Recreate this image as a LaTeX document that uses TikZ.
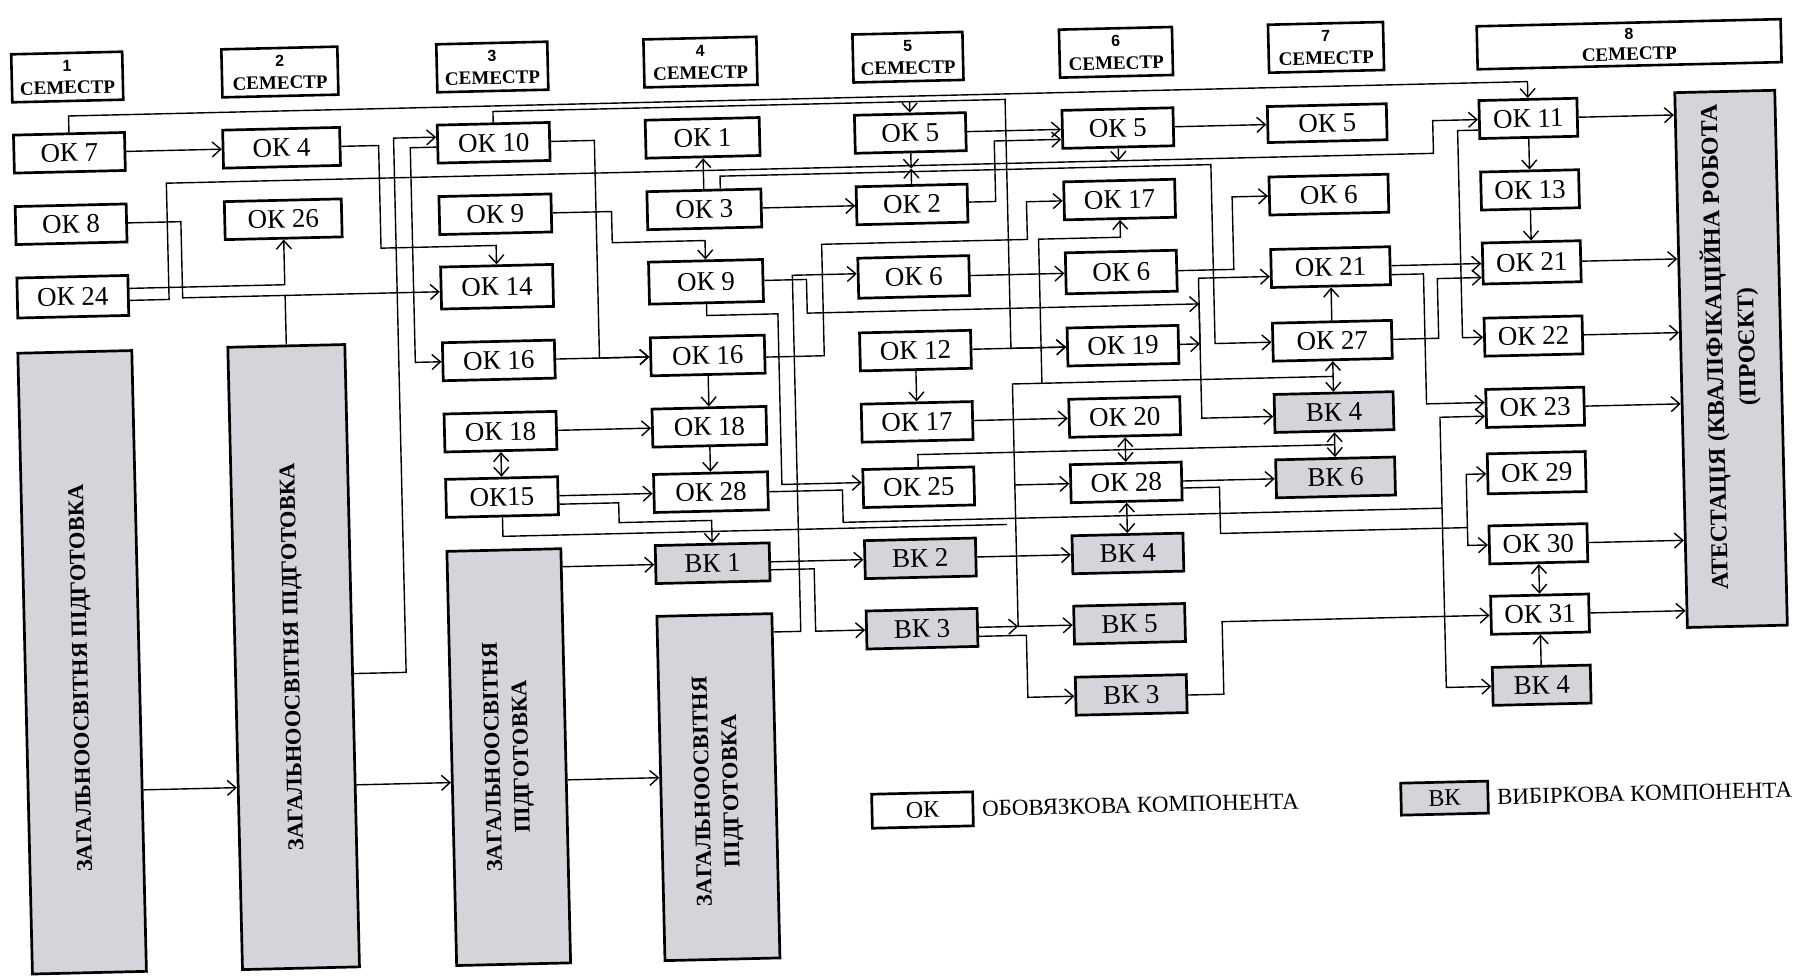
\documentclass[tikz,border=0pt]{standalone}
\usepackage{fontspec}
\setmainfont{Liberation Serif}
\newfontfamily\hdsans{Liberation Sans}
\usetikzlibrary{arrows.meta,calc}
\definecolor{vkgray}{RGB}{214,212,218}
\newcommand{\semhdr}[1]{{\hdsans\fontsize{16}{23}\selectfont #1}\\{\rmfamily\bfseries СЕМЕСТР}}
\begin{document}
\begin{tikzpicture}[x=1pt,y=-1pt,
  box/.style={draw,line width=2.7pt,minimum height=38pt,inner sep=0pt,font=\fontsize{27}{29}\selectfont},
  vk/.style={box,fill=vkgray},
  hdr/.style={draw,line width=2.6pt,minimum height=48pt,inner sep=0pt,align=center,font=\fontsize{19}{23}\selectfont\bfseries},
  bigbox/.style={draw,line width=2.7pt,fill=vkgray,inner sep=0pt},
  bigtext/.style={rotate=90,align=center,inner sep=0pt,font=\fontsize{22.5}{28.5}\selectfont\bfseries},
  ln/.style={line width=1.4pt},
  arr/.style={line width=1.4pt,-{Straight Barb[length=8.5pt,width=15pt]}},
  dbl/.style={line width=1.4pt,{Straight Barb[length=8.5pt,width=15pt]}-{Straight Barb[length=8.5pt,width=15pt]}},
  cA/.style={minimum width=111pt},
  cB/.style={minimum width=117pt},
  cC/.style={minimum width=112pt},
  cD/.style={minimum width=114pt},
  cE/.style={minimum width=111pt},
  cF/.style={minimum width=111pt},
  cG/.style={minimum width=119pt},
  cH/.style={minimum width=98pt},
  legtext/.style={anchor=west,inner sep=0pt,font=\fontsize{23}{25}\selectfont}
]
\path[use as bounding box,fill=white] (11.29,-21.34) rectangle (1806.29,953.66);
\begin{scope}[rotate=1.35,transform shape]
% ---------- semester headers
\node[hdr,minimum width=111pt] (S1) at (77.2,57.5) {\semhdr{1}};
\node[hdr,minimum width=116pt] (S2) at (289.9,57.5) {\semhdr{2}};
\node[hdr,minimum width=111pt] (S3) at (502.4,57.5) {\semhdr{3}};
\node[hdr,minimum width=113pt] (S4) at (710.6,57.5) {\semhdr{4}};
\node[hdr,minimum width=110pt] (S5) at (918.2,57.5) {\semhdr{5}};
\node[hdr,minimum width=113pt] (S6) at (1126.3,57.5) {\semhdr{6}};
\node[hdr,minimum width=115pt] (S7) at (1336.4,57.5) {\semhdr{7}};
\node[hdr,minimum width=304pt,minimum height=43pt,font=\fontsize{19}{21}\selectfont\bfseries] (S8) at (1639.5,61.5) {\semhdr{8}};
% ---------- column 1
\node[box,cA] (OK7) at (77.6,133.3) {ОК 7};
\node[box,cA] (OK8) at (77.6,204.8) {ОК 8};
\node[box,cA,minimum height=40pt] (OK24) at (77.6,277.3) {ОК 24};
\node[bigbox,minimum width=114pt,minimum height=621pt] (B1) at (78.3,643) {};
\node[bigtext] (B1t) at ($(B1.center)+(0,16)$) {ЗАГАЛЬНООСВІТНЯ ПІДГОТОВКА};
% ---------- column 2
\node[box,cB] (OK4) at (289.8,133.3) {ОК 4};
\node[box,cB] (OK26) at (289.8,204.8) {ОК 26};
\node[bigbox,minimum width=117pt,minimum height=622.5pt] (B2) at (289.9,642.75) {};
\node[bigtext] (B2t) at (B2.center) {ЗАГАЛЬНООСВІТНЯ ПІДГОТОВКА};
% ---------- column 3
\node[box,cC] (OK10) at (502,133.3) {ОК 10};
\node[box,cC] (OK9a) at (502,204.8) {ОК 9};
\node[box,cC,minimum height=42pt] (OK14) at (502,277.3) {ОК 14};
\node[box,cC] (OK16a) at (502,351) {ОК 16};
\node[box,cC] (OK18a) at (502,422.3) {ОК 18};
\node[box,cC] (OK15) at (502,487.7) {ОК15};
\node[bigbox,minimum width=114pt,minimum height=414.3pt] (B3) at (502.6,747.85) {};
\node[bigtext] (B3t) at (B3.center) {ЗАГАЛЬНООСВІТНЯ\\ПІДГОТОВКА};
% ---------- column 4
\node[box,cD] (OK1) at (711,133.3) {ОК 1};
\node[box,cD] (OK3) at (711,204.8) {ОК 3};
\node[box,cD,minimum height=42pt] (OK9b) at (711,277.3) {ОК 9};
\node[box,cD] (OK16b) at (711,351) {ОК 16};
\node[box,cD] (OK18b) at (711,422.3) {ОК 18};
\node[box,cD] (OK28a) at (711,487.7) {ОК 28};
\node[vk,cD] (VK1) at (711,558.8) {ВК 1};
\node[bigbox,minimum width=115pt,minimum height=344.4pt] (B4) at (711.5,782.8) {};
\node[bigtext] (B4t) at ($(B4.center)+(0,4)$) {ЗАГАЛЬНООСВІТНЯ\\ПІДГОТОВКА};
% ---------- column 5
\node[box,cE] (OK5a) at (918.8,133.3) {ОК 5};
\node[box,cE] (OK2) at (918.8,204.8) {ОК 2};
\node[box,cE,minimum height=40pt] (OK6a) at (918.8,277.3) {ОК 6};
\node[box,cE] (OK12) at (918.8,351) {ОК 12};
\node[box,cE] (OK17a) at (918.8,422.3) {ОК 17};
\node[box,cE] (OK25) at (918.8,487.7) {ОК 25};
\node[vk,cE] (VK2) at (918.8,558.8) {ВК 2};
\node[vk,cE] (VK3a) at (918.8,629.2) {ВК 3};
% ---------- column 6
\node[box,cF] (OK5b) at (1126.4,133.3) {ОК 5};
\node[box,cF] (OK17b) at (1126.4,204.8) {ОК 17};
\node[box,cF,minimum height=41pt] (OK6b) at (1126.4,277.3) {ОК 6};
\node[box,cF] (OK19) at (1126.4,351) {ОК 19};
\node[box,cF] (OK20) at (1126.4,422.3) {ОК 20};
\node[box,cF] (OK28b) at (1126.4,487.7) {ОК 28};
\node[vk,cF] (VK4a) at (1126.4,558.8) {ВК 4};
\node[vk,cF] (VK5) at (1126.4,629.2) {ВК 5};
\node[vk,cF] (VK3b) at (1126.4,700.3) {ВК 3};
% ---------- column 7
\node[box,cG,minimum height=36pt] (OK5c) at (1335.8,133.3) {ОК 5};
\node[box,cG] (OK6c) at (1335.8,204.8) {ОК 6};
\node[box,cG] (OK21a) at (1335.8,277.3) {ОК 21};
\node[box,cG] (OK27) at (1335.8,351) {ОК 27};
\node[vk,cG] (VK4b) at (1335.8,422.3) {ВК 4};
\node[vk,cG] (VK6) at (1335.8,487.7) {ВК 6};
% ---------- column 8
\node[box,cH] (OK11) at (1537,133.3) {ОК 11};
\node[box,cH] (OK13) at (1537,204.8) {ОК 13};
\node[box,cH,minimum height=41pt] (OK21b) at (1537,277.3) {ОК 21};
\node[box,cH] (OK22) at (1537,351) {ОК 22};
\node[box,cH] (OK23) at (1537,422.3) {ОК 23};
\node[box,cH,minimum height=40pt] (OK29) at (1537,487.7) {ОК 29};
\node[box,cH] (OK30) at (1537,558.8) {ОК 30};
\node[box,cH] (OK31) at (1537,629.2) {ОК 31};
\node[vk,cH] (VK4c) at (1537,700.3) {ВК 4};
% ---------- final attestation
\node[bigbox,minimum width=100pt,minimum height=535pt] (RB) at (1734,378.5) {};
\node[bigtext,font=\fontsize{24}{32}\selectfont\bfseries] (RBt) at ($(RB.center)+(0,-12)$) {АТЕСТАЦІЯ (КВАЛІФІКАЦІЙНА РОБОТА\\(ПРОЄКТ)};
% ---------- legend
\node[box,minimum width=101pt,minimum height=34pt,font=\fontsize{24}{26}\selectfont] (LOK) at (915,810.5) {ОК};
\node[legtext] (LOKt) at (974.5,810.5) {ОБОВЯЗКОВА КОМПОНЕНТА};
\node[vk,minimum width=87pt,minimum height=32pt,font=\fontsize{24}{26}\selectfont] (LVK) at (1437.2,810.9) {ВК};
\node[legtext] (LVKt) at (1489.6,810.9) {ВИБІРКОВА КОМПОНЕНТА};
% ---------- junction coordinates
\coordinate (jOK5) at (918.8,102);
\coordinate (jB2) at (289.9,281);
\coordinate (dang) at (1006,527);
\coordinate (jA) at (1203.5,311);
\coordinate (jB) at (1203.5,351);
\coordinate (j5) at (1441.6,521);
\coordinate (m3) at (918.8,169);
\coordinate (m2) at (1335.8,455);
\coordinate (jV) at (1015,629.2);
\coordinate (j6) at (1126.4,166);
\coordinate (j7) at (1466.5,541);
\coordinate (m1) at (1335.8,386.65);
\coordinate (jC) at (1015,487.7);
\coordinate (jD) at (1044.5,386.65);
% ---------- long top lines
\draw[arr] (OK7.north) -- (77.6,96.5) -- (1537,96.5) -- (OK11.north);
\draw[arr] (OK10.north) -- (502,102) -- (1014.3,102) -- (1014.3,351) -- (OK19.west);
\draw[arr] (jOK5) -- (OK5a.north);
% ---------- left part
\draw[arr] (OK7.east) -- (OK4.west);
\draw[arr] (OK4.east) -- (386.9,133.3) -- (386.9,236) -- (502,236) -- (OK14.north);
\draw[arr] (OK8.east) -- (187.4,204.8) -- (187.4,281) -- ($(OK14.west)+(0,3.7)$);
\draw[ln] (B2.north) -- (jB2);
\draw[arr] ($(OK24.east)+(0,-7)$) -- (289.8,270.3) -- (OK26.south);
\draw[arr] ($(OK24.east)+(0,5)$) -- (173.8,282.3) -- (173.8,166) -- (1441.3,166) -- (1441.3,133.3) -- (OK11.west);
\draw[arr] ($(B2.east)+(0,17.95)$) -- (402,660.7) -- (402,126.3) -- ($(OK10.west)+(0,-7)$);
\draw[arr] ($(OK10.west)+(0,3)$) -- (418.5,136.3) -- (418.5,351) -- (OK16a.west);
\draw[arr] (OK10.east) -- (602.7,133.3) -- (602.7,351) -- (OK16b.west);
\draw[arr] (OK16a.east) -- (OK16b.west);
\draw[arr] (OK9a.east) -- (618.2,204.8) -- (618.2,236) -- (711,236) -- (OK9b.north);
\draw[arr] (OK18a.east) -- (OK18b.west);
\draw[dbl] (OK18a.south) -- (OK15.north);
\draw[arr] (OK15.east) -- (OK28a.west);
\draw[arr] ($(OK15.east)+(0,8.5)$) -- (618.5,496.2) -- (618.5,516) -- (711,516) -- (VK1.north);
\draw[ln] (OK15.south) -- (502,527) -- (dang);
\draw[arr] ($(B3.east)+(0,-189.05)$) -- (VK1.west);
\draw[arr] ($(B1.east)+(0,129)$) -- ($(B2.west)+(0,129.25)$);
\draw[arr] ($(B2.east)+(0,129.25)$) -- ($(B3.west)+(0,24.15)$);
\draw[arr] ($(B3.east)+(0,24.15)$) -- ($(B4.west)+(0,-10.8)$);
% ---------- column 4 outputs
\draw[arr] (OK3.north) -- (OK1.south);
\draw[arr] (OK3.east) -- (OK2.west);
\draw[arr] ($(OK3.north)+(16.5,0)$) -- (727.5,172) -- (1218.5,172) -- (1218.5,351) -- (OK27.west);
\draw[arr] (OK16b.south) -- (OK18b.north);
\draw[arr] (OK18b.south) -- (OK28a.north);
\draw[arr] ($(B4.east)+(0,-153.8)$) -- (797.5,629) -- (797.5,272.8) -- ($(OK6a.west)+(0,-4.5)$);
\draw[arr] (OK9b.south) -- (711,311) -- (782.1,311) -- (782.1,481.7) -- ($(OK25.west)+(0,-6)$);
\draw[arr] (OK9b.east) -- (811.5,277.3) -- (811.5,311) -- (jA);
\draw[arr] ($(OK16b.east)+(0,3)$) -- (827.5,354) -- (827.5,242.5) -- (1033.3,242.5) -- (1033.3,204.8) -- (OK17b.west);
\draw[arr] ($(OK28a.east)+(0,1)$) -- (842.5,488.7) -- (842.5,521) -- (j5) -- (1441.6,430) -- ($(OK23.west)+(0,7.7)$);
\draw[arr] (j5) -- (1441.6,700.3) -- (VK4c.west);
\draw[arr] (VK1.east) -- (VK2.west);
\draw[arr] ($(VK1.east)+(0,8)$) -- (812.4,566.8) -- (812.4,629.2) -- (VK3a.west);
% ---------- column 5 outputs
\draw[arr] (OK5a.south) -- (m3);
\draw[arr] (OK2.north) -- (m3);
\draw[arr] (OK5a.east) -- (OK5b.west);
\draw[arr] ($(OK2.east)+(0,-1)$) -- (1002.5,203.8) -- (1002.5,143.3) -- ($(OK5b.west)+(0,10)$);
\draw[arr] (OK6a.east) -- (OK6b.west);
\draw[arr] (OK12.east) -- (OK19.west);
\draw[arr] (OK12.south) -- (OK17a.north);
\draw[arr] (OK17a.east) -- (OK20.west);
\draw[ln] (OK25.north) -- (918.8,455) -- (m2);
\draw[arr] (VK2.east) -- (VK4a.west);
\draw[arr] (VK3a.east) -- (jV);
\draw[arr] ($(VK3a.east)+(0,9)$) -- (1023,638.2) -- (1023,700.3) -- (VK3b.west);
% ---------- column 6 outputs
\draw[arr] (OK5b.south) -- (j6);
\draw[arr] (OK5b.east) -- (OK5c.west);
\draw[arr] (OK6b.east) -- (1239,277.3) -- (1239,204.8) -- (OK6c.west);
\draw[arr] (OK19.east) -- (jB);
\draw[arr] (jB) -- (jA) -- (1203.5,285.3) -- ($(OK21a.west)+(0,8)$);
\draw[arr] (jA) -- (1203.5,425.3) -- ($(VK4b.west)+(0,3)$);
\draw[dbl] (OK20.south) -- (OK28b.north);
\draw[dbl] (OK28b.south) -- (VK4a.north);
\draw[arr] (OK28b.east) -- (VK6.west);
\draw[arr] ($(OK28b.east)+(0,7)$) -- (1219.5,494.7) -- (1219.5,541) -- (j7) -- (1466.5,487.7) -- (OK29.west);
\draw[arr] (j7) -- (1466.5,558.8) -- (OK30.west);
\draw[arr] ($(VK3b.east)+(0,1.5)$) -- (1219,701.8) -- (1219,629.2) -- (OK31.west);
% ---------- bus from OK27 / VK4
\draw[dbl] (OK27.south) -- (VK4b.north);
\draw[arr] (m1) -- (1015,386.65) -- (jV) -- (VK5.west);
\draw[arr] (jC) -- (OK28b.west);
\draw[arr] (jD) -- (1044.5,242.5) -- (1126.4,242.5) -- (OK17b.south);
% ---------- column 7 outputs
\draw[dbl] (VK4b.south) -- (VK6.north);
\draw[arr] (OK27.north) -- (OK21a.south);
\draw[arr] (OK21a.east) -- (OK21b.west);
\draw[arr] ($(OK21a.east)+(0,9)$) -- (1428.5,286.3) -- (1428.5,416.3) -- ($(OK23.west)+(0,-6)$);
\draw[arr] (OK27.east) -- (1442.2,351) -- (1442.2,291.3) -- ($(OK21b.west)+(0,14)$);
% ---------- column 8
\draw[arr] ($(OK11.west)+(0,10.5)$) -- (1466,143.8) -- (1466,351) -- (OK22.west);
\draw[arr] (OK11.south) -- (OK13.north);
\draw[arr] (OK13.south) -- (OK21b.north);
\draw[dbl] (OK30.south) -- (OK31.north);
\draw[arr] (VK4c.north) -- (OK31.south);
\foreach \n/\dy in {OK11/-245.2,OK21b/-101.2,OK22/-27.5,OK23/43.8,OK30/180.3,OK31/250.7}
  \draw[arr] (\n.east) -- ($(RB.west)+(0,\dy)$);
\end{scope}
\end{tikzpicture}
\end{document}
